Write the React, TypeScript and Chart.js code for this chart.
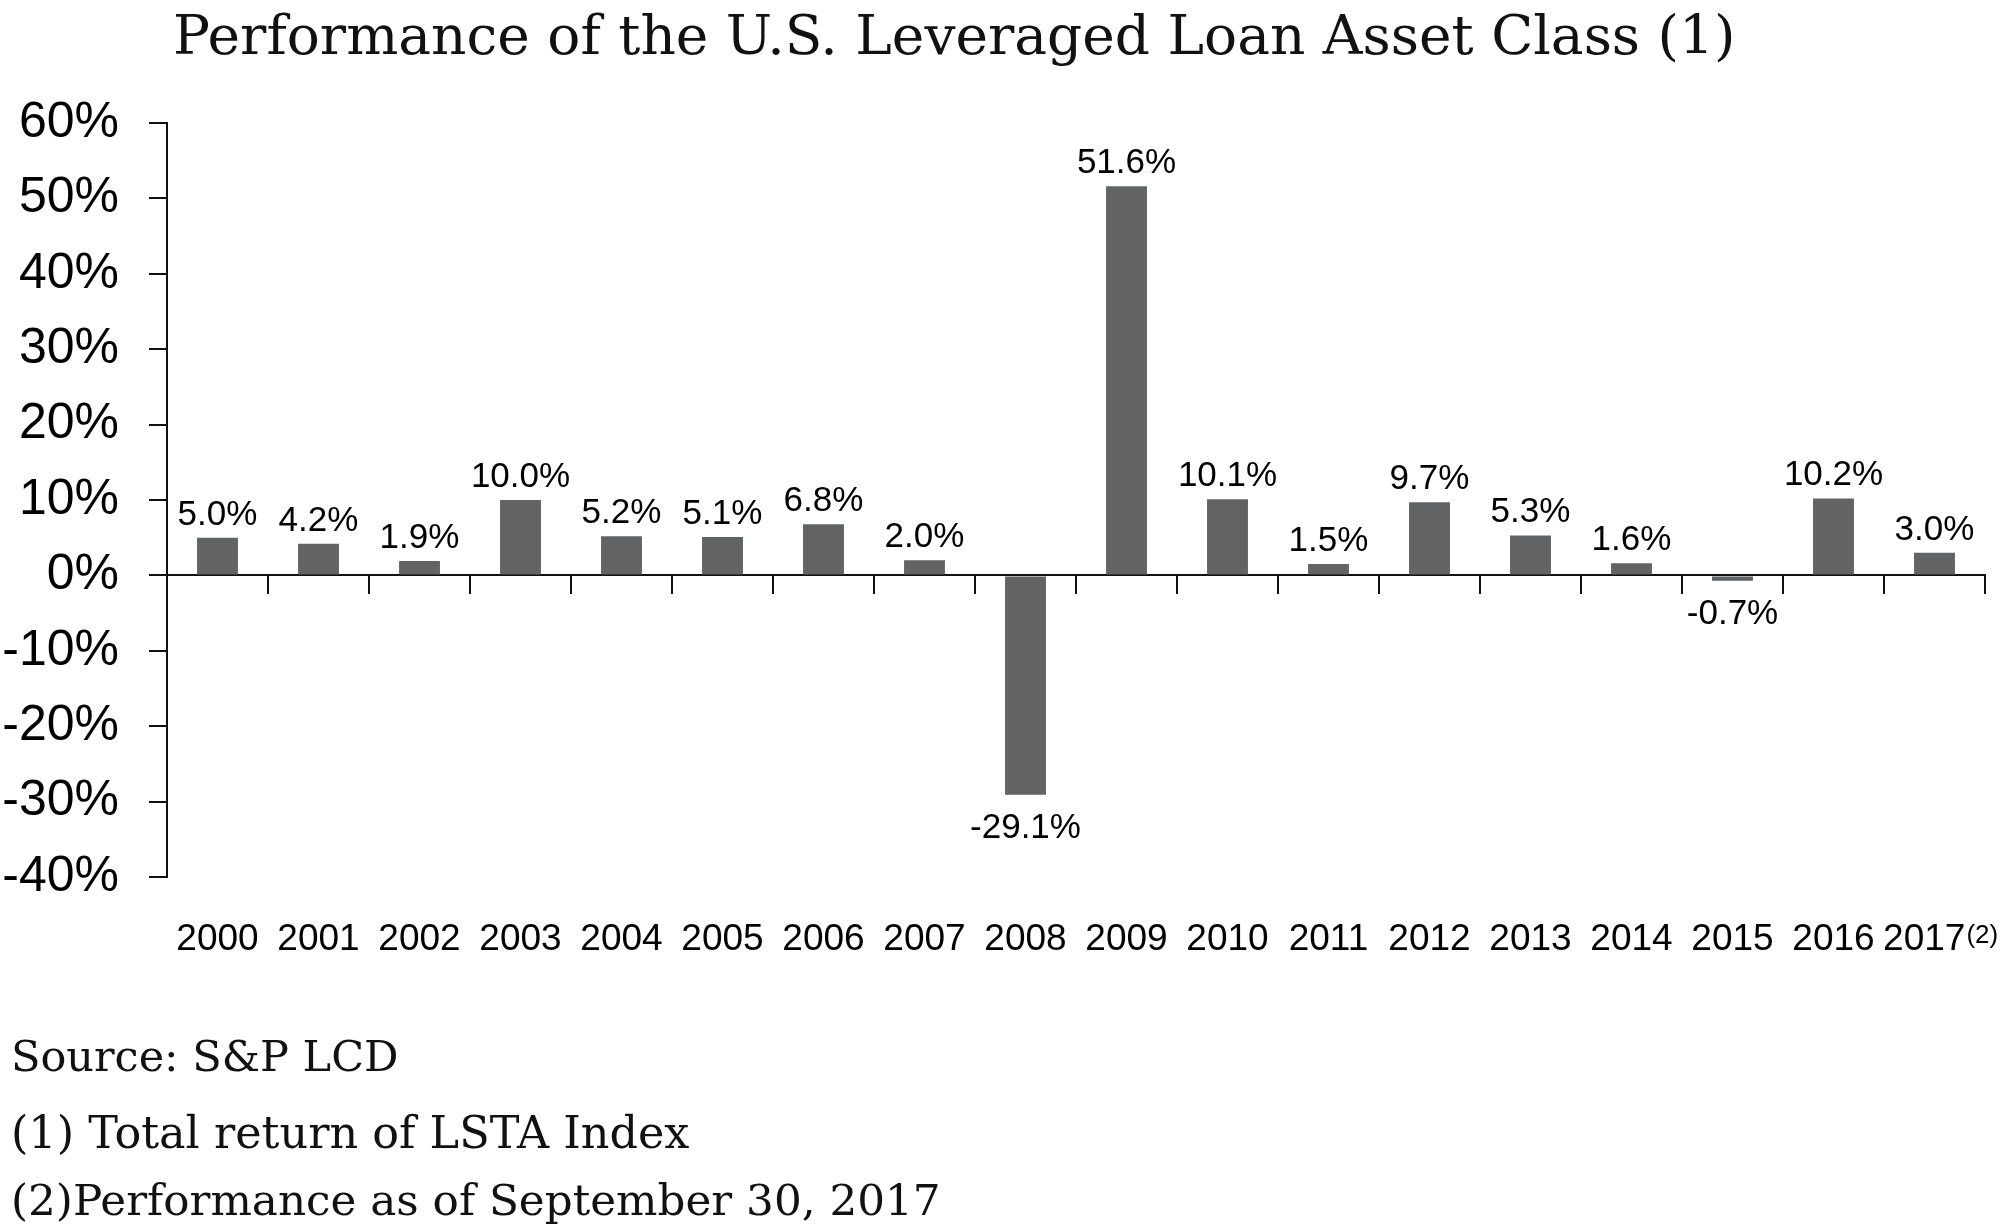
import React, { useEffect, useRef } from "react";
import { Chart, registerables } from "chart.js";

Chart.register(...registerables);

const categories = [
  "2000", "2001", "2002", "2003", "2004", "2005", "2006", "2007", "2008",
  "2009", "2010", "2011", "2012", "2013", "2014", "2015", "2016", "2017",
];
const returnsPct = [
  5.0, 4.2, 1.9, 10.0, 5.2, 5.1, 6.8, 2.0, -29.1,
  51.6, 10.1, 1.5, 9.7, 5.3, 1.6, -0.7, 10.2, 3.0,
];
const footnoteMarks = [
  "", "", "", "", "", "", "", "", "",
  "", "", "", "", "", "", "", "", "(2)",
];
const yMin = -40;
const yMax = 60;
const yStep = 10;
const titleText = "Performance of the U.S. Leveraged Loan Asset Class (1)";
const footnotes = [
  "Source: S&P LCD",
  "(1) Total return of LSTA Index",
  "(2)Performance as of September 30, 2017",
];

const SANS = '"Liberation Sans", Arial, Helvetica, sans-serif';
const SERIF = '"DejaVu Serif", serif';
const BAR_COLOR = "#626365";
const AXIS_COLOR = "#111111";

const dataLabelPlugin = {
  id: "dataLabels",
  afterDatasetsDraw(chart: any) {
    const ctx = chart.ctx;
    const meta = chart.getDatasetMeta(0);
    ctx.save();
    ctx.font = `35px ${SANS}`;
    ctx.fillStyle = "#000";
    ctx.textAlign = "center";
    ctx.textBaseline = "alphabetic";
    meta.data.forEach((bar: any, i: number) => {
      const v = returnsPct[i];
      const y = v >= 0 ? bar.y - 13 : bar.y + 43;
      ctx.fillText(v.toFixed(1) + "%", bar.x, y);
    });
    ctx.restore();
  },
};

const superscriptPlugin = {
  id: "superscripts",
  afterDraw(chart: any) {
    const ctx = chart.ctx;
    const xs = chart.scales.x;
    ctx.save();
    footnoteMarks.forEach((mark, i) => {
      if (!mark) return;
      ctx.font = `37px ${SANS}`;
      const full = categories[i] + "  ";
      const wFull = ctx.measureText(full).width;
      const wLab = ctx.measureText(categories[i]).width;
      const cx = xs.getPixelForTick(i);
      const x = cx - wFull / 2 + wLab + 1;
      ctx.font = `26px ${SANS}`;
      ctx.fillStyle = "#000";
      ctx.textAlign = "left";
      ctx.textBaseline = "alphabetic";
      ctx.fillText(mark, x, chart.chartArea.bottom + 66);
    });
    ctx.restore();
  },
};

export default function App() {
  const canvasRef = useRef<HTMLCanvasElement | null>(null);

  useEffect(() => {
    if (!canvasRef.current) return;
    const chart = new Chart(canvasRef.current, {
      type: "bar",
      data: {
        labels: categories,
        datasets: [
          {
            data: returnsPct,
            backgroundColor: BAR_COLOR,
            borderWidth: 0,
            barPercentage: 0.405,
            categoryPercentage: 1,
            xAxisID: "x",
            yAxisID: "y",
          },
        ],
      },
      options: {
        responsive: false,
        maintainAspectRatio: false,
        animation: false,
        events: [],
        layout: { padding: { top: 123, right: 15, bottom: 255, left: 0 } },
        plugins: {
          legend: { display: false },
          title: { display: false },
          tooltip: { enabled: false },
        },
        scales: {
          x: {
            type: "category",
            position: "bottom",
            offset: true,
            grid: { display: false, drawTicks: false },
            border: { display: false },
            ticks: {
              autoSkip: false,
              maxRotation: 0,
              minRotation: 0,
              padding: 41,
              color: "#000",
              font: { family: SANS, size: 37 },
              callback: (_v: any, i: number) =>
                footnoteMarks[i] ? categories[i] + "  " : categories[i],
            },
            afterFit: (scale: any) => {
              scale.height = 100;
              scale.paddingLeft = 0;
              scale.paddingRight = 0;
            },
          },
          x2: {
            type: "category",
            axis: "x",
            position: { y: 0 },
            offset: true,
            grid: {
              display: true,
              offset: true,
              drawOnChartArea: false,
              drawTicks: true,
              tickLength: 18,
              color: AXIS_COLOR,
              lineWidth: 2,
            },
            border: { display: true, color: AXIS_COLOR, width: 2 },
            ticks: { display: false },
          },
          y: {
            type: "linear",
            position: "left",
            min: yMin,
            max: yMax,
            grid: {
              display: true,
              drawOnChartArea: false,
              drawTicks: true,
              tickLength: 18,
              color: AXIS_COLOR,
              lineWidth: 2,
            },
            border: { display: true, color: AXIS_COLOR, width: 2 },
            ticks: {
              stepSize: yStep,
              padding: 30,
              color: "#000",
              font: { family: SANS, size: 50 },
              callback: (v: any) => `${v}%`,
            },
            afterFit: (scale: any) => {
              scale.width = 167;
            },
          },
        },
      } as any,
      plugins: [dataLabelPlugin, superscriptPlugin],
    });
    return () => chart.destroy();
  }, []);

  const footTops = [1035, 1111, 1178];
  const footSizes = [43, 44.5, 43.7];

  return (
    <div
      style={{
        position: "absolute",
        left: 0,
        top: 0,
        width: 2000,
        height: 1232,
        background: "#fff",
        overflow: "hidden",
      }}
    >
      <canvas
        ref={canvasRef}
        width={2000}
        height={1232}
        style={{ position: "absolute", left: 0, top: 0 }}
      />
      <div
        style={{
          position: "absolute",
          left: 173,
          top: 8,
          fontFamily: SERIF,
          fontSize: 55,
          lineHeight: "55px",
          whiteSpace: "nowrap",
          color: "#111",
        }}
      >
        {titleText}
      </div>
      {footnotes.map((t, i) => (
        <div
          key={i}
          style={{
            position: "absolute",
            left: 11,
            top: footTops[i],
            fontFamily: SERIF,
            fontSize: footSizes[i],
            lineHeight: `${footSizes[i]}px`,
            whiteSpace: "pre",
            color: "#111",
          }}
        >
          {t}
        </div>
      ))}
    </div>
  );
}
